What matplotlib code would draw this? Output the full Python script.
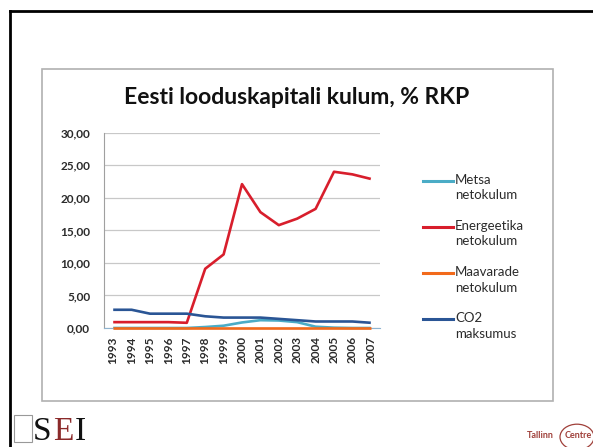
import numpy as np
import matplotlib.pyplot as plt
from matplotlib.lines import Line2D
from matplotlib.patches import Rectangle, Circle

# Eesti looduskapitali kulum, % RKP
years = [str(y) for y in range(1993, 2008)]
metsa = [0.0, 0.0, 0.0, 0.0, 0.0, 0.15, 0.35, 0.85, 1.2, 1.15, 0.9, 0.2, 0.05, 0.0, 0.0]
energeetika = [0.9, 0.9, 0.9, 0.9, 0.8, 9.1, 11.3, 22.1, 17.8, 15.8, 16.8, 18.3, 24.0, 23.6, 22.9]
maavarade = [0.05] * 15
co2 = [2.8, 2.8, 2.2, 2.2, 2.2, 1.8, 1.6, 1.6, 1.6, 1.4, 1.2, 1.0, 1.0, 1.0, 0.8]

series = [
    ("Metsa\nnetokulum", metsa, "#4bacc6", 2),
    ("Energeetika\nnetokulum", energeetika, "#d81e2c", 3),
    ("Maavarade\nnetokulum", maavarade, "#f26a1b", 5),
    ("CO2\nmaksumus", co2, "#2a5595", 4),
]

font = "Lato"
txt_col = "#2b2b2b"

fig = plt.figure(figsize=(5.93, 4.47), dpi=100)

# slide frame
fig.add_artist(Line2D([9.5 / 593, 9.5 / 593], [0, 1 - 10.5 / 447], color="black", lw=2))
fig.add_artist(Line2D([9.5 / 593, 1], [1 - 10.5 / 447, 1 - 10.5 / 447], color="black", lw=2))

# chart box
fig.add_artist(Rectangle((42 / 593, 1 - 401 / 447), (553 - 42) / 593, (401 - 69) / 447,
                         fill=False, edgecolor="#b0b0b0", lw=1.2))

ax = fig.add_axes([104 / 593, 1 - 328 / 447, 276 / 593, (328 - 132.7) / 447])
x = np.arange(len(years))
for label, vals, col, z in series:
    ax.plot(x, vals, color=col, lw=1.9, solid_capstyle="butt", zorder=z, clip_on=False)

ax.set_xlim(-0.5, len(years) - 0.5)
ax.set_ylim(0, 30)
ax.set_yticks(np.arange(0, 31, 5))
ax.set_yticklabels([f"{v:.2f}".replace(".", ",") for v in np.arange(0, 31, 5)],
                   fontsize=8.5, fontweight="bold", color=txt_col, family=font)
ax.set_xticks(x)
ax.set_xticklabels(years, rotation=90, fontsize=8.5, fontweight="bold", color=txt_col, family=font)
ax.tick_params(axis="y", length=0, pad=10)
ax.tick_params(axis="x", length=0, pad=6)
ax.grid(axis="y", color="#c8c8c8", lw=0.9)
ax.set_axisbelow(True)
for s in ["top", "right"]:
    ax.spines[s].set_visible(False)
ax.spines["left"].set_color("#a0a0a0")
ax.spines["bottom"].set_color("#8fb4d0")

fig.text(297 / 593, 1 - 97 / 447, "Eesti looduskapitali kulum, % RKP", ha="center", va="center",
         fontsize=16.5, fontweight="bold", family=font, color="#111111")

# legend
for i, (label, vals, col, z) in enumerate(series):
    yy = 1 - (180.7 + i * 46.2) / 447
    fig.add_artist(Line2D([423 / 593, 453 / 593], [yy, yy], color=col, lw=2.2))
    fig.text(455 / 593, yy + 7 / 447, label, ha="left", va="top", fontsize=9.5,
             family=font, color=txt_col, linespacing=1.35)

# logos
fig.add_artist(Rectangle((14 / 593, 1 - 442 / 447), 18 / 593, 27 / 447, fill=False,
                         edgecolor="#999999", lw=0.8))
fig.text(33 / 593, 0, "S", family="Liberation Serif", fontsize=24, color="#111111",
         ha="left", va="bottom")
fig.text(53 / 593, 0, "E", family="Liberation Serif", fontsize=24, color="#8b2a2a",
         ha="left", va="bottom")
fig.text(75 / 593, 0, "I", family="Liberation Serif", fontsize=24, color="#111111",
         ha="left", va="bottom")
fig.text(540 / 593, 1 - 436 / 447, "Tallinn", ha="center", va="center", fontsize=6.5,
         fontweight="bold", color="#a0403a", family=font)
fig.add_artist(Circle((577 / 593, 1 - 437 / 447), 17 / 593, transform=fig.transFigure,
                      fill=False, edgecolor="#a0403a", lw=0.9))
fig.text(578 / 593, 1 - 436 / 447, "Centre", ha="center", va="center", fontsize=6.5,
         fontweight="bold", color="#a0403a", family=font)

fig.savefig("out.png", dpi=100)
